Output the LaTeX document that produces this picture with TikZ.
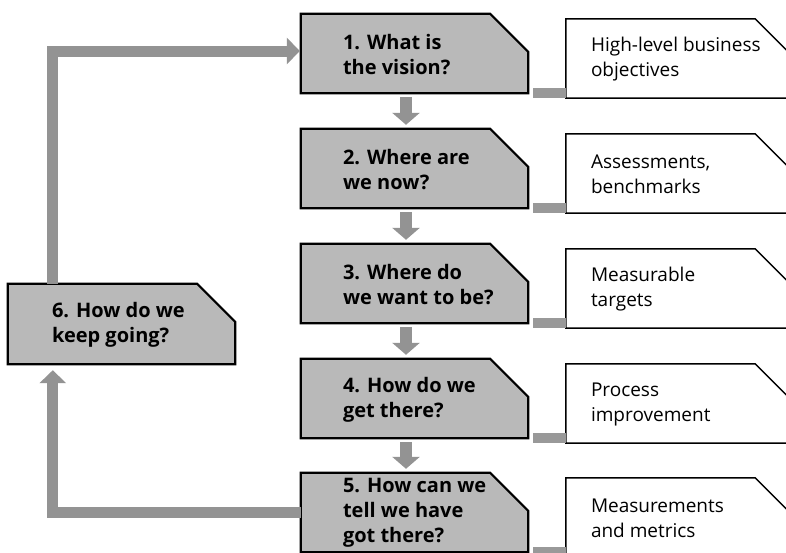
\documentclass[tikz,border=0pt]{standalone}
\usepackage{fontspec}
\setmainfont{Open Sans}
\usetikzlibrary{arrows.meta,calc,backgrounds}
\begin{document}
\begin{tikzpicture}[x=1pt,y=-1pt,
  box/.style={rectangle,draw=none,minimum width=227pt,minimum height=79pt,inner sep=0pt},
  qtext/.style={anchor=west,align=left,inner sep=0pt,font=\fontsize{20}{25}\selectfont\bfseries},
  rtext/.style={anchor=west,align=left,inner sep=0pt,font=\fontsize{19}{25}\selectfont},
  qline/.style={draw=black,line width=2.2pt,fill=gray!55,line join=miter},
  rline/.style={draw=black,line width=1.5pt,fill=white,line join=miter},
  downarrow/.style={draw=gray!85,line width=12pt,-{Triangle[width=27pt,length=12pt]}},
  looparrow/.style={draw=gray!85,line width=11pt,line join=miter,-{Triangle[width=26pt,length=13pt]}},
  barline/.style={draw=gray!80,line width=10pt}]
\clip (0,0) rectangle (786,552);
% question boxes
\node[box] (q1) at (414.5,53.5) {};
\node[box] (q2) at (414.5,168.5) {};
\node[box] (q3) at (414.5,283.5) {};
\node[box] (q4) at (414.5,398.5) {};
\node[box] (q5) at (414.5,512.5) {};
\node[box,minimum height=80pt] (q6) at (121.5,324) {};
% result boxes
\node[box] (r1) at (679.5,58.5) {};
\node[box] (r2) at (679.5,173.5) {};
\node[box] (r3) at (679.5,288.5) {};
\node[box] (r4) at (679.5,403.5) {};
\node[box] (r5) at (679.5,517.5) {};
% outlines
\foreach \n in {q1,q2,q3,q4,q5,q6}
  \draw[qline] (\n.north west) -- ($(\n.north east)+(-38,0)$) -- ($(\n.north east)+(0,38)$) -- (\n.south east) -- (\n.south west) -- cycle;
\foreach \n in {r1,r2,r3,r4,r5}
  \draw[rline] (\n.north west) -- ($(\n.north east)+(-38,0)$) -- ($(\n.north east)+(0,38)$) -- (\n.south east) -- (\n.south west) -- cycle;
% texts
\node[qtext] (t1) at ($(q1.west)+(42,1.5)$) {1. What is\\the vision?};
\node[qtext] (t2) at ($(q2.west)+(42,1.5)$) {2. Where are\\we now?};
\node[qtext] (t3) at ($(q3.west)+(42,1.5)$) {3. Where do\\we want to be?};
\node[qtext] (t4) at ($(q4.west)+(42,1.5)$) {4. How do we\\get there?};
\node[qtext] (t5) at ($(q5.west)+(42,0)$) {5. How can we\\tell we have\\got there?};
\node[qtext] (t6) at ($(q6.west)+(44,0.5)$) {6. How do we\\keep going?};
\node[rtext] (s1) at ($(r1.west)+(25,1)$) {High-level business\\objectives};
\node[rtext] (s2) at ($(r2.west)+(25,1)$) {Assessments,\\benchmarks};
\node[rtext] (s3) at ($(r3.west)+(25,1)$) {Measurable\\targets};
\node[rtext] (s4) at ($(r4.west)+(25,1)$) {Process\\improvement};
\node[rtext] (s5) at ($(r5.west)+(25,1)$) {Measurements\\and metrics};
% down arrows
\foreach \a/\b in {q1/q2,q2/q3,q3/q4,q4/q5}
  \draw[downarrow] ($(\a.south)+(-8.5,4)$) -- ($(\b.north)+(-8.5,-4)$);
% bars
\foreach \i in {1,...,5}
  \draw[barline] ($(q\i.east |- r\i.south west)+(5,-5)$) -- ($(r\i.south west)+(0,-5)$);
% loop arrows
\draw[looparrow] ($(q6.north west)+(45,0)$) |- ($(q1.west)+(-1,-2.5)$);
\draw[looparrow] (q5.west) -| ($(q6.south west)+(45,6)$);
\end{tikzpicture}
\end{document}
